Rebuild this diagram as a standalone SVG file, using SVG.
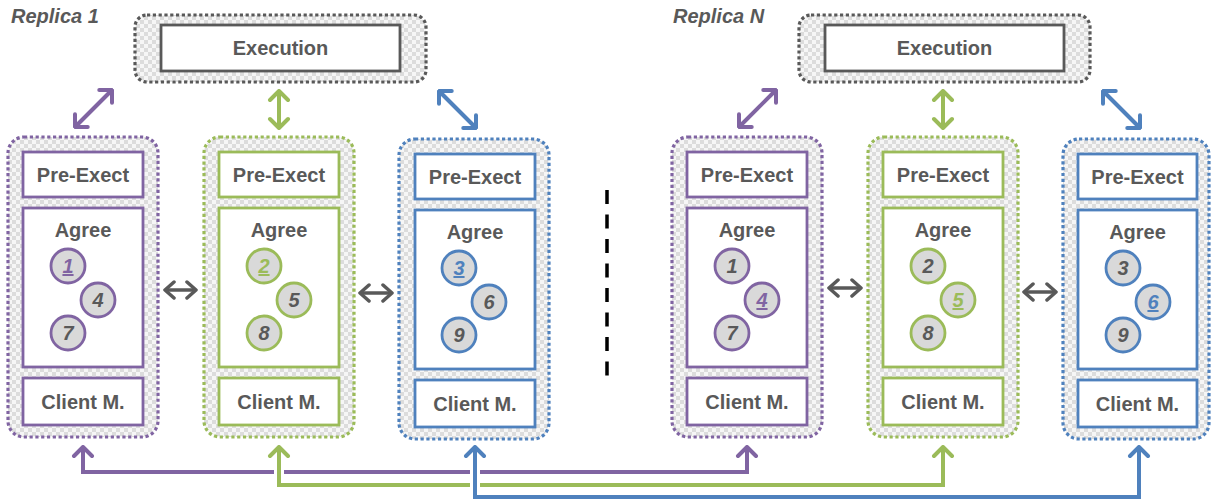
<svg xmlns="http://www.w3.org/2000/svg" width="1211" height="504" viewBox="0 0 1211 504">
  <defs>
    <pattern id="checker" width="8" height="8" patternUnits="userSpaceOnUse">
      <rect width="8" height="8" fill="#f6f6f6"/>
      <rect width="4" height="4" fill="#dcdcdc"/>
      <rect x="4" y="4" width="4" height="4" fill="#dcdcdc"/>
    </pattern>
    <marker id="hP" viewBox="-14 -12 16 24" markerWidth="16" markerHeight="24" refX="0" refY="0" orient="auto-start-reverse" markerUnits="userSpaceOnUse">
      <path d="M-9,-9 L0,0 L-9,9" fill="none" stroke="#8064A2" stroke-width="4" stroke-linecap="round" stroke-linejoin="round"/>
    </marker>
    <marker id="hG" viewBox="-14 -12 16 24" markerWidth="16" markerHeight="24" refX="0" refY="0" orient="auto-start-reverse" markerUnits="userSpaceOnUse">
      <path d="M-9,-9 L0,0 L-9,9" fill="none" stroke="#9BBB59" stroke-width="4" stroke-linecap="round" stroke-linejoin="round"/>
    </marker>
    <marker id="hB" viewBox="-14 -12 16 24" markerWidth="16" markerHeight="24" refX="0" refY="0" orient="auto-start-reverse" markerUnits="userSpaceOnUse">
      <path d="M-9,-9 L0,0 L-9,9" fill="none" stroke="#4F81BD" stroke-width="4" stroke-linecap="round" stroke-linejoin="round"/>
    </marker>
    <marker id="hK" viewBox="-14 -12 16 24" markerWidth="16" markerHeight="24" refX="0" refY="0" orient="auto-start-reverse" markerUnits="userSpaceOnUse">
      <path d="M-9,-8 L0,0 L-9,8" fill="none" stroke="#595959" stroke-width="3.5" stroke-linecap="round" stroke-linejoin="round"/>
    </marker>
  </defs>
  <style>
    text { font-family: "Liberation Sans", Arial, sans-serif; font-weight: bold; fill: #595959; text-anchor: middle; }
    .title { font-style: italic; font-size: 20px; text-anchor: start; }
    .lbl { font-size: 20px; }
    .num { font-style: italic; font-size: 20px; }
    .shell { fill: url(#checker); stroke-width: 3.2; stroke-dasharray: 3.2 2.6; }
    .box { fill: #ffffff; stroke-width: 2.8; }
    .tok { fill: #d9d9d9; stroke-width: 2.8; }
    .p { stroke: #8064A2; }
    .g { stroke: #9BBB59; }
    .b { stroke: #4F81BD; }
    .k { stroke: #595959; }
    .link { fill: none; stroke-width: 4; }
    .gap { fill: none; stroke: #ffffff; stroke-width: 10; }
    .pair { fill: none; stroke: #595959; stroke-width: 3.5; }
  </style>

  <!-- replica titles -->
  <text class="title" x="11" y="23">Replica 1</text>
  <text class="title" x="673" y="23">Replica N</text>

  <!-- execution stages -->
  <g id="exec-1">
    <rect class="shell k" x="135" y="15" width="291" height="67" rx="12"/>
    <rect class="box k" x="161" y="25" width="239" height="46" stroke-width="3"/>
    <text class="lbl" x="280.5" y="55">Execution</text>
  </g>
  <g id="exec-n">
    <rect class="shell k" x="799" y="15" width="291" height="67" rx="12"/>
    <rect class="box k" x="825" y="25" width="239" height="46" stroke-width="3"/>
    <text class="lbl" x="944.5" y="55">Execution</text>
  </g>

  <!-- replica 1 pipelines -->
  <g id="r1-purple">
    <rect class="shell p" x="8" y="137" width="150" height="300" rx="16"/>
    <rect class="box p" x="23" y="152" width="120" height="45"/>
    <text class="lbl" x="83" y="182">Pre-Exect</text>
    <rect class="box p" x="23" y="208" width="120" height="159"/>
    <text class="lbl" x="83" y="237">Agree</text>
    <circle class="tok p" cx="68" cy="266" r="17"/>
    <text class="num" x="68" y="273" style="fill:#8064A2" text-decoration="underline">1</text>
    <circle class="tok p" cx="98" cy="300" r="17"/>
    <text class="num" x="98" y="307">4</text>
    <circle class="tok p" cx="68" cy="333" r="17"/>
    <text class="num" x="68" y="340">7</text>
    <rect class="box p" x="23" y="378" width="120" height="47"/>
    <text class="lbl" x="83" y="409">Client M.</text>
  </g>
  <g id="r1-green">
    <rect class="shell g" x="204" y="137" width="150" height="300" rx="16"/>
    <rect class="box g" x="219" y="152" width="120" height="45"/>
    <text class="lbl" x="279" y="182">Pre-Exect</text>
    <rect class="box g" x="219" y="208" width="120" height="159"/>
    <text class="lbl" x="279" y="237">Agree</text>
    <circle class="tok g" cx="264" cy="266" r="17"/>
    <text class="num" x="264" y="273" style="fill:#9BBB59" text-decoration="underline">2</text>
    <circle class="tok g" cx="294" cy="300" r="17"/>
    <text class="num" x="294" y="307">5</text>
    <circle class="tok g" cx="264" cy="333" r="17"/>
    <text class="num" x="264" y="340">8</text>
    <rect class="box g" x="219" y="378" width="120" height="47"/>
    <text class="lbl" x="279" y="409">Client M.</text>
  </g>
  <g id="r1-blue">
    <rect class="shell b" x="399" y="139" width="150" height="300" rx="16"/>
    <rect class="box b" x="415" y="154" width="120" height="45"/>
    <text class="lbl" x="475" y="184">Pre-Exect</text>
    <rect class="box b" x="415" y="210" width="120" height="159"/>
    <text class="lbl" x="475" y="239">Agree</text>
    <circle class="tok b" cx="459" cy="268" r="17"/>
    <text class="num" x="459" y="275" style="fill:#4F81BD" text-decoration="underline">3</text>
    <circle class="tok b" cx="489" cy="302" r="17"/>
    <text class="num" x="489" y="309">6</text>
    <circle class="tok b" cx="459" cy="335" r="17"/>
    <text class="num" x="459" y="342">9</text>
    <rect class="box b" x="415" y="380" width="120" height="47"/>
    <text class="lbl" x="475" y="411">Client M.</text>
  </g>

  <!-- replica N pipelines -->
  <g id="rn-purple">
    <rect class="shell p" x="672" y="137" width="150" height="300" rx="16"/>
    <rect class="box p" x="687" y="152" width="120" height="45"/>
    <text class="lbl" x="747" y="182">Pre-Exect</text>
    <rect class="box p" x="687" y="208" width="120" height="159"/>
    <text class="lbl" x="747" y="237">Agree</text>
    <circle class="tok p" cx="732" cy="266" r="17"/>
    <text class="num" x="732" y="273">1</text>
    <circle class="tok p" cx="762" cy="300" r="17"/>
    <text class="num" x="762" y="307" style="fill:#8064A2" text-decoration="underline">4</text>
    <circle class="tok p" cx="732" cy="333" r="17"/>
    <text class="num" x="732" y="340">7</text>
    <rect class="box p" x="687" y="378" width="120" height="47"/>
    <text class="lbl" x="747" y="409">Client M.</text>
  </g>
  <g id="rn-green">
    <rect class="shell g" x="868" y="137" width="150" height="300" rx="16"/>
    <rect class="box g" x="883" y="152" width="120" height="45"/>
    <text class="lbl" x="943" y="182">Pre-Exect</text>
    <rect class="box g" x="883" y="208" width="120" height="159"/>
    <text class="lbl" x="943" y="237">Agree</text>
    <circle class="tok g" cx="928" cy="266" r="17"/>
    <text class="num" x="928" y="273">2</text>
    <circle class="tok g" cx="958" cy="300" r="17"/>
    <text class="num" x="958" y="307" style="fill:#9BBB59" text-decoration="underline">5</text>
    <circle class="tok g" cx="928" cy="333" r="17"/>
    <text class="num" x="928" y="340">8</text>
    <rect class="box g" x="883" y="378" width="120" height="47"/>
    <text class="lbl" x="943" y="409">Client M.</text>
  </g>
  <g id="rn-blue">
    <rect class="shell b" x="1063" y="139" width="146" height="300" rx="16"/>
    <rect class="box b" x="1078" y="154" width="119" height="45"/>
    <text class="lbl" x="1137.5" y="184">Pre-Exect</text>
    <rect class="box b" x="1078" y="210" width="119" height="159"/>
    <text class="lbl" x="1137.5" y="239">Agree</text>
    <circle class="tok b" cx="1123" cy="268" r="17"/>
    <text class="num" x="1123" y="275">3</text>
    <circle class="tok b" cx="1153" cy="302" r="17"/>
    <text class="num" x="1153" y="309" style="fill:#4F81BD" text-decoration="underline">6</text>
    <circle class="tok b" cx="1123" cy="335" r="17"/>
    <text class="num" x="1123" y="342">9</text>
    <rect class="box b" x="1078" y="380" width="119" height="47"/>
    <text class="lbl" x="1137.5" y="411">Client M.</text>
  </g>

  <!-- separator between replicas -->
  <line x1="607" y1="190" x2="607" y2="378" stroke="#000000" stroke-width="3.5" stroke-dasharray="14 10.5"/>

  <g id="connectors">
    <!-- pipeline to execution -->
    <line class="link p" x1="75" y1="127" x2="112" y2="90" marker-start="url(#hP)" marker-end="url(#hP)"/>
    <line class="link g" x1="279" y1="91" x2="279" y2="128" marker-start="url(#hG)" marker-end="url(#hG)"/>
    <line class="link b" x1="439" y1="91" x2="476" y2="128" marker-start="url(#hB)" marker-end="url(#hB)"/>
    <line class="link p" x1="739" y1="127" x2="776" y2="90" marker-start="url(#hP)" marker-end="url(#hP)"/>
    <line class="link g" x1="943" y1="91" x2="943" y2="128" marker-start="url(#hG)" marker-end="url(#hG)"/>
    <line class="link b" x1="1103" y1="91" x2="1140" y2="128" marker-start="url(#hB)" marker-end="url(#hB)"/>

    <!-- neighbouring pipelines -->
    <line class="pair" x1="165" y1="290" x2="196" y2="290" marker-start="url(#hK)" marker-end="url(#hK)"/>
    <line class="pair" x1="360" y1="293" x2="392" y2="293" marker-start="url(#hK)" marker-end="url(#hK)"/>
    <line class="pair" x1="829" y1="288" x2="861" y2="288" marker-start="url(#hK)" marker-end="url(#hK)"/>
    <line class="pair" x1="1024" y1="292" x2="1056" y2="292" marker-start="url(#hK)" marker-end="url(#hK)"/>

    <!-- cross-replica client links -->
    <path class="link p" d="M83,447 V472 H747 V447" marker-start="url(#hP)" marker-end="url(#hP)"/>
    <path class="gap" d="M279,466 V478"/>
    <path class="link g" d="M279,447 V485 H943 V447" marker-start="url(#hG)" marker-end="url(#hG)"/>
    <path class="gap" d="M475,466 V491"/>
    <path class="link b" d="M475,447 V497 H1139 V447" marker-start="url(#hB)" marker-end="url(#hB)"/>
  </g>
</svg>
